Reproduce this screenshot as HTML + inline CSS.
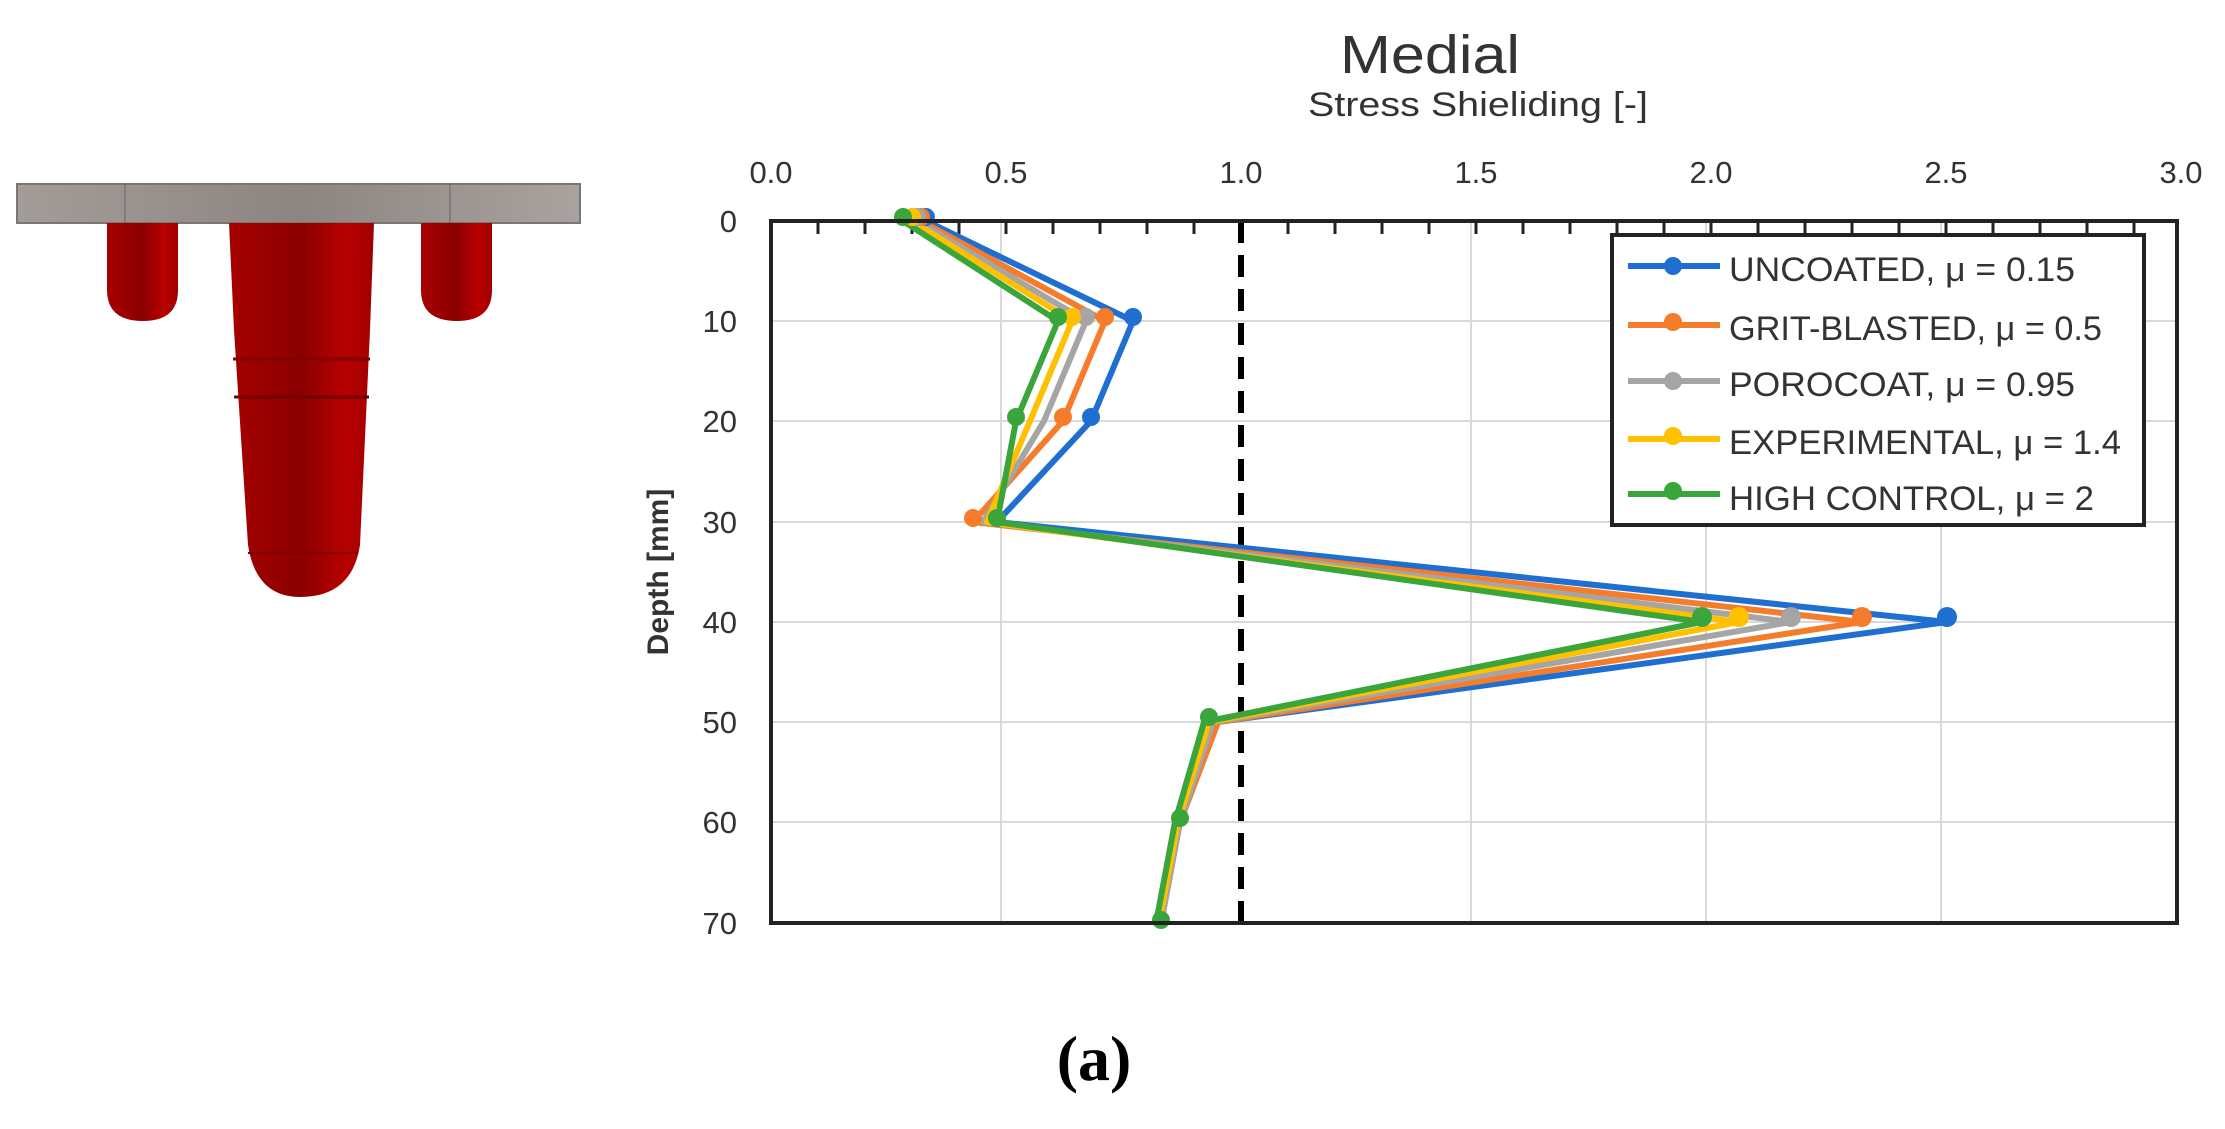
<!DOCTYPE html>
<html><head><meta charset="utf-8"><style>
html,body{margin:0;padding:0;background:#fff;}
svg{display:block;}
text{font-family:"Liberation Sans",sans-serif;fill:#333;}
</style></head><body>
<svg width="2225" height="1129" viewBox="0 0 2225 1129" xmlns="http://www.w3.org/2000/svg">
<defs>
<linearGradient id="plate" x1="0" x2="1" y1="0" y2="0">
<stop offset="0" stop-color="#a39c98"/><stop offset="0.5" stop-color="#8c8581"/><stop offset="1" stop-color="#a9a29e"/>
</linearGradient>
<linearGradient id="red" x1="0" x2="1" y1="0" y2="0">
<stop offset="0" stop-color="#a80000"/><stop offset="0.5" stop-color="#8a0000"/><stop offset="0.8" stop-color="#b80000"/><stop offset="1" stop-color="#a00000"/>
</linearGradient>
</defs>
<rect x="17" y="184" width="563" height="39" fill="url(#plate)" stroke="#777" stroke-width="2"/>
<line x1="125" y1="184" x2="125" y2="223" stroke="#666" stroke-width="1"/>
<line x1="450" y1="184" x2="450" y2="223" stroke="#666" stroke-width="1"/>
<path d="M107 223 L178 223 L178 290 Q178 321 143 321 Q107 321 107 290 Z" fill="url(#red)"/>
<path d="M421 223 L492 223 L492 290 Q492 321 457 321 Q421 321 421 290 Z" fill="url(#red)"/>
<path d="M229 223 L374 223 L370 330 L360 545 Q352 597 300 597 Q256 597 248 545 L234 330 Z" fill="url(#red)"/>
<line x1="233" y1="359" x2="370" y2="359" stroke="#800000" stroke-width="3"/>
<line x1="234" y1="397" x2="369" y2="397" stroke="#700000" stroke-width="3"/>
<line x1="248" y1="553" x2="358" y2="553" stroke="#800000" stroke-width="2"/>

<text x="1430" y="73" font-size="54" text-anchor="middle" fill="#222" textLength="180" lengthAdjust="spacingAndGlyphs">Medial</text>
<text x="1478" y="116" font-size="34" text-anchor="middle" fill="#333" textLength="340" lengthAdjust="spacingAndGlyphs">Stress Shieliding [-]</text>

<g stroke="#d9d9d9" stroke-width="2">
<line x1="1001" y1="221" x2="1001" y2="923"/>
<line x1="1471" y1="221" x2="1471" y2="923"/>
<line x1="1706" y1="221" x2="1706" y2="923"/>
<line x1="1941" y1="221" x2="1941" y2="923"/>
<line x1="771" y1="321" x2="2177" y2="321"/>
<line x1="771" y1="421" x2="2177" y2="421"/>
<line x1="771" y1="522" x2="2177" y2="522"/>
<line x1="771" y1="622" x2="2177" y2="622"/>
<line x1="771" y1="722" x2="2177" y2="722"/>
<line x1="771" y1="822" x2="2177" y2="822"/>
</g>
<g stroke="#222" stroke-width="3">
<line x1="818" y1="221" x2="818" y2="234"/><line x1="865" y1="221" x2="865" y2="234"/><line x1="912" y1="221" x2="912" y2="234"/><line x1="959" y1="221" x2="959" y2="234"/><line x1="1006" y1="221" x2="1006" y2="234"/><line x1="1053" y1="221" x2="1053" y2="234"/><line x1="1100" y1="221" x2="1100" y2="234"/><line x1="1147" y1="221" x2="1147" y2="234"/><line x1="1194" y1="221" x2="1194" y2="234"/><line x1="1288" y1="221" x2="1288" y2="234"/><line x1="1335" y1="221" x2="1335" y2="234"/><line x1="1382" y1="221" x2="1382" y2="234"/><line x1="1429" y1="221" x2="1429" y2="234"/><line x1="1476" y1="221" x2="1476" y2="234"/><line x1="1523" y1="221" x2="1523" y2="234"/><line x1="1570" y1="221" x2="1570" y2="234"/><line x1="1617" y1="221" x2="1617" y2="234"/><line x1="1664" y1="221" x2="1664" y2="234"/><line x1="1711" y1="221" x2="1711" y2="234"/><line x1="1758" y1="221" x2="1758" y2="234"/><line x1="1805" y1="221" x2="1805" y2="234"/><line x1="1852" y1="221" x2="1852" y2="234"/><line x1="1899" y1="221" x2="1899" y2="234"/><line x1="1946" y1="221" x2="1946" y2="234"/><line x1="1993" y1="221" x2="1993" y2="234"/><line x1="2040" y1="221" x2="2040" y2="234"/><line x1="2087" y1="221" x2="2087" y2="234"/><line x1="2134" y1="221" x2="2134" y2="234"/>
</g>
<line x1="1241" y1="221" x2="1241" y2="923" stroke="#000" stroke-width="6" stroke-dasharray="22,12"/>

<g fill="none" stroke-width="6" stroke-linejoin="round">
<polyline stroke="#1f6fd1" points="926,221 1133,321 1091,421 997,522 1947,622 1218,722 1180,822 1161,923"/>
<polyline stroke="#f47c2a" points="921,221 1105,321 1063,421 973,522 1862,622 1218,722 1180,822 1161,923"/>
<polyline stroke="#a5a5a5" points="917,221 1086,321 1044,421 983,522 1791,622 1213,722 1180,822 1161,923"/>
<polyline stroke="#ffc000" points="912,221 1072,321 1030,421 987,522 1739,622 1209,722 1178,822 1159,923"/>
<polyline stroke="#3aa53a" points="903,221 1058,321 1016,421 997,522 1702,622 1204,722 1175,822 1156,923"/>
</g>
<g>
<g fill="#1f6fd1"><circle cx="926" cy="217" r="9"/><circle cx="1133" cy="317" r="9"/><circle cx="1091" cy="417" r="9"/><circle cx="1947" cy="617" r="10"/></g>
<g fill="#f47c2a"><circle cx="921" cy="217" r="9"/><circle cx="1105" cy="317" r="9"/><circle cx="1063" cy="417" r="9"/><circle cx="973" cy="518" r="9"/><circle cx="1862" cy="617" r="10"/></g>
<g fill="#a5a5a5"><circle cx="917" cy="217" r="9"/><circle cx="1086" cy="317" r="9"/><circle cx="1791" cy="617" r="10"/></g>
<g fill="#ffc000"><circle cx="912" cy="217" r="9"/><circle cx="1072" cy="317" r="9"/><circle cx="1739" cy="617" r="10"/></g>
<g fill="#3aa53a"><circle cx="903" cy="217" r="9"/><circle cx="1058" cy="317" r="9"/><circle cx="1016" cy="417" r="9"/><circle cx="997" cy="518" r="9"/><circle cx="1702" cy="617" r="10"/><circle cx="1209" cy="717" r="9"/><circle cx="1180" cy="818" r="9"/><circle cx="1161" cy="920" r="9"/></g>
</g>

<rect x="771" y="221" width="1406" height="702" fill="none" stroke="#222" stroke-width="4"/>

<g font-size="31" text-anchor="middle">
<text x="771" y="183">0.0</text><text x="1006" y="183">0.5</text><text x="1241" y="183">1.0</text><text x="1476" y="183">1.5</text><text x="1711" y="183">2.0</text><text x="1946" y="183">2.5</text><text x="2181" y="183">3.0</text>
</g>
<g font-size="31" text-anchor="end">
<text x="737" y="232">0</text><text x="737" y="332">10</text><text x="737" y="432">20</text><text x="737" y="533">30</text><text x="737" y="633">40</text><text x="737" y="733">50</text><text x="737" y="833">60</text><text x="737" y="934">70</text>
</g>
<text transform="translate(668,572) rotate(-90)" font-size="30" font-weight="bold" text-anchor="middle" fill="#404040">Depth [mm]</text>

<rect x="1612" y="235" width="532" height="290" fill="#fff" stroke="#222" stroke-width="4"/>
<g stroke-width="6">
<line x1="1628" y1="266" x2="1720" y2="266" stroke="#1f6fd1"/><circle cx="1673" cy="266" r="9" fill="#1f6fd1"/>
<line x1="1628" y1="325" x2="1720" y2="325" stroke="#f47c2a"/><circle cx="1673" cy="322" r="9" fill="#f47c2a"/>
<line x1="1628" y1="381" x2="1720" y2="381" stroke="#a5a5a5"/><circle cx="1673" cy="381" r="9" fill="#a5a5a5"/>
<line x1="1628" y1="439" x2="1720" y2="439" stroke="#ffc000"/><circle cx="1673" cy="436" r="9" fill="#ffc000"/>
<line x1="1628" y1="494" x2="1720" y2="494" stroke="#3aa53a"/><circle cx="1673" cy="491" r="9" fill="#3aa53a"/>
</g>
<g font-size="34">
<text x="1729" y="281" textLength="346" lengthAdjust="spacingAndGlyphs">UNCOATED, μ = 0.15</text>
<text x="1729" y="340" textLength="373" lengthAdjust="spacingAndGlyphs">GRIT-BLASTED, μ = 0.5</text>
<text x="1729" y="396" textLength="346" lengthAdjust="spacingAndGlyphs">POROCOAT, μ = 0.95</text>
<text x="1729" y="454" textLength="392" lengthAdjust="spacingAndGlyphs">EXPERIMENTAL, μ = 1.4</text>
<text x="1729" y="510" textLength="365" lengthAdjust="spacingAndGlyphs">HIGH CONTROL, μ = 2</text>
</g>

<text x="1094" y="1080" font-size="64" font-weight="bold" text-anchor="middle" style="font-family:'Liberation Serif',serif;fill:#000">(a)</text>
</svg>
</body></html>
